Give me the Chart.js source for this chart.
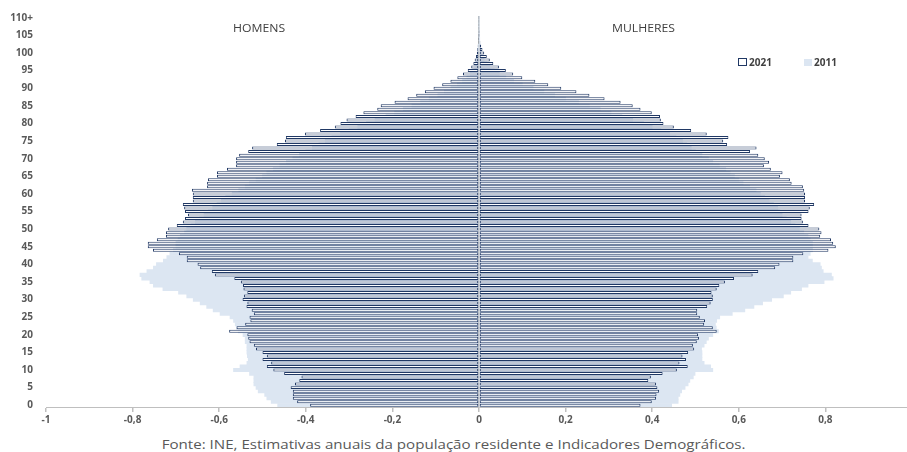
<!DOCTYPE html>
<html>
<head>
<meta charset="utf-8">
<script src="https://cdn.jsdelivr.net/npm/chart.js@4/dist/chart.umd.min.js"></script>
<style>
  body { margin: 0; background: #fff; font-family: "Open Sans", sans-serif; }
  #wrap { position: relative; width: 907px; height: 452px; overflow: hidden; }
  #box { position: absolute; left: 0; top: 0; width: 922px; height: 427px; }
  .lbl { position: absolute; font-size: 10px; color: #404040; white-space: nowrap; transform: scaleX(1.22); transform-origin: left center; }
  .leg { position: absolute; top: 55px; font-size: 10px; font-weight: bold; color: #404040; }
  .sw { display: inline-block; width: 7px; height: 6px; margin-right: 2px; }
  #src { position: absolute; left: 0; width: 907px; top: 436px; text-align: center; font-size: 12.4px; color: #595959; transform: scaleX(1.22); transform-origin: 453px center; white-space: nowrap; }
</style>
</head>
<body>
<div id="wrap">
  <div id="box"><canvas id="pyr"></canvas></div>
  <div class="lbl" style="left:233px; top:21px;">HOMENS</div>
  <div class="lbl" style="left:612px; top:21px;">MULHERES</div>
  <div class="leg" style="left:738px;"><span class="sw" style="border:1px solid #203864;background:#fff;"></span>2021</div>
  <div class="leg" style="left:804px;"><span class="sw" style="background:#dce6f2;width:8px;height:7px;"></span>2011</div>
  <div id="src">Fonte: INE, Estimativas anuais da população residente e Indicadores Demográficos.</div>
</div>
<script>
// ages 0..109 and the open class 110+
const ages = Array.from({ length: 110 }, (_, i) => String(i)).concat(['110+']);

// share of total population (%)
const homens2021 = [0.39,0.42,0.43,0.43,0.43,0.435,0.425,0.415,0.41,0.45,
  0.475,0.49,0.48,0.5,0.49,0.5,0.515,0.52,0.53,0.533,
  0.535,0.577,0.56,0.54,0.528,0.53,0.52,0.525,0.537,0.535,
  0.546,0.543,0.535,0.544,0.545,0.55,0.565,0.61,0.617,0.644,
  0.65,0.675,0.675,0.693,0.753,0.765,0.765,0.744,0.723,0.723,
  0.718,0.698,0.684,0.679,0.672,0.679,0.681,0.684,0.661,0.661,
  0.661,0.663,0.628,0.628,0.626,0.605,0.605,0.582,0.561,0.561,
  0.561,0.554,0.533,0.524,0.467,0.448,0.446,0.402,0.367,0.333,
  0.32,0.306,0.285,0.267,0.235,0.227,0.195,0.165,0.145,0.125,
  0.105,0.085,0.066,0.05,0.037,0.026,0.018,0.013,0.01,0.007,
  0.005,0.004,0.003,0.002,0.001,0.001,0,0,0,0,0];

const mulheres2021 = [0.373,0.399,0.409,0.41,0.416,0.412,0.409,0.391,0.397,0.424,
  0.457,0.482,0.463,0.478,0.47,0.483,0.497,0.494,0.503,0.508,
  0.506,0.549,0.54,0.52,0.522,0.51,0.504,0.504,0.527,0.535,
  0.54,0.54,0.537,0.549,0.555,0.568,0.589,0.632,0.645,0.684,
  0.694,0.726,0.726,0.749,0.807,0.824,0.818,0.813,0.788,0.791,
  0.786,0.761,0.748,0.745,0.745,0.761,0.764,0.774,0.753,0.753,
  0.753,0.751,0.748,0.722,0.718,0.695,0.701,0.674,0.658,0.67,
  0.66,0.645,0.626,0.641,0.573,0.564,0.576,0.526,0.49,0.45,
  0.426,0.42,0.418,0.399,0.373,0.355,0.327,0.29,0.255,0.225,
  0.19,0.16,0.13,0.1,0.079,0.062,0.046,0.033,0.025,0.018,
  0.012,0.008,0.005,0.003,0.002,0.001,0.001,0,0,0,0];

const homens2011 = [0.465,0.48,0.49,0.495,0.51,0.515,0.52,0.52,0.52,0.53,
  0.567,0.552,0.536,0.533,0.535,0.536,0.536,0.536,0.54,0.54,
  0.545,0.556,0.56,0.563,0.567,0.575,0.598,0.614,0.629,0.644,
  0.66,0.675,0.694,0.73,0.752,0.76,0.779,0.783,0.767,0.752,
  0.745,0.729,0.721,0.714,0.706,0.7,0.7,0.695,0.69,0.68,
  0.675,0.665,0.655,0.645,0.635,0.625,0.615,0.605,0.595,0.585,
  0.57,0.555,0.54,0.53,0.515,0.5,0.49,0.475,0.46,0.445,
  0.43,0.415,0.4,0.385,0.37,0.355,0.34,0.32,0.3,0.28,
  0.26,0.24,0.215,0.195,0.175,0.155,0.135,0.115,0.095,0.08,
  0.065,0.05,0.038,0.028,0.02,0.014,0.01,0.007,0.005,0.003,
  0.002,0.001,0.001,0,0,0,0,0,0,0,0];

const mulheres2011 = [0.445,0.46,0.46,0.464,0.468,0.476,0.483,0.487,0.495,0.499,
  0.54,0.535,0.52,0.515,0.515,0.515,0.514,0.52,0.525,0.53,
  0.54,0.553,0.548,0.546,0.549,0.556,0.585,0.614,0.635,0.655,
  0.676,0.703,0.72,0.745,0.76,0.797,0.818,0.814,0.795,0.791,
  0.788,0.77,0.76,0.765,0.77,0.77,0.77,0.765,0.76,0.75,
  0.74,0.73,0.72,0.71,0.7,0.695,0.69,0.68,0.67,0.66,
  0.65,0.64,0.625,0.61,0.6,0.59,0.58,0.57,0.555,0.54,
  0.53,0.515,0.5,0.49,0.48,0.47,0.455,0.44,0.42,0.4,
  0.38,0.355,0.33,0.305,0.28,0.255,0.23,0.2,0.175,0.15,
  0.125,0.1,0.08,0.062,0.047,0.035,0.025,0.018,0.012,0.008,
  0.005,0.003,0.002,0.001,0.001,0,0,0,0,0,0];

const xTicks = { min: -1, max: 1, step: 0.2 };

const NAVY = '#203864';
const LIGHT = '#dce6f2';
const tickFont = { family: 'Open Sans', size: 10, weight: 'bold' };

// men go to the left
const neg = arr => arr.map(v => -v);

const bar2021 = {
  backgroundColor: '#ffffff', borderColor: NAVY, borderWidth: 1, borderSkipped: false,
  barPercentage: 0.85, categoryPercentage: 1, grouped: false, order: 0
};
const bar2011 = {
  backgroundColor: LIGHT, borderWidth: 0,
  barPercentage: 1, categoryPercentage: 1, grouped: false, order: 1
};

new Chart(document.getElementById('pyr'), {
  type: 'bar',
  data: {
    labels: ages,
    datasets: [
      Object.assign({ label: '2021 H', data: neg(homens2021) }, bar2021),
      Object.assign({ label: '2021 M', data: mulheres2021 }, bar2021),
      Object.assign({ label: '2011 H', data: neg(homens2011) }, bar2011),
      Object.assign({ label: '2011 M', data: mulheres2011 }, bar2011)
    ]
  },
  options: {
    indexAxis: 'y',
    responsive: true,
    maintainAspectRatio: false,
    animation: false,
    layout: { padding: { top: 16, right: 10, left: 0, bottom: 0 } },
    plugins: { legend: { display: false }, tooltip: { enabled: false } },
    scales: {
      x: {
        min: xTicks.min, max: xTicks.max,
        border: { display: true, color: '#bfbfbf', width: 1 },
        grid: {
          color: c => (c.tick && Math.abs(c.tick.value) < 1e-9) ? '#8c8c8c' : 'rgba(0,0,0,0)',
          lineWidth: 1.5,
          tickColor: '#bfbfbf', tickLength: 5, drawTicks: true
        },
        ticks: {
          stepSize: xTicks.step, color: '#595959', font: tickFont, padding: 2,
          callback: v => String(Math.round(v * 10) / 10).replace('.', ',')
        },
        afterFit: a => { a.height = 20; }
      },
      y: {
        reverse: true,
        border: { display: false },
        grid: { display: false },
        ticks: {
          autoSkip: false, color: '#595959', font: tickFont, padding: 5,
          callback: (v, i) => (i % 5 === 0 ? ages[i] : '')
        },
        afterFit: a => { a.width = 46; }
      }
    }
  }
});
</script>
</body>
</html>
